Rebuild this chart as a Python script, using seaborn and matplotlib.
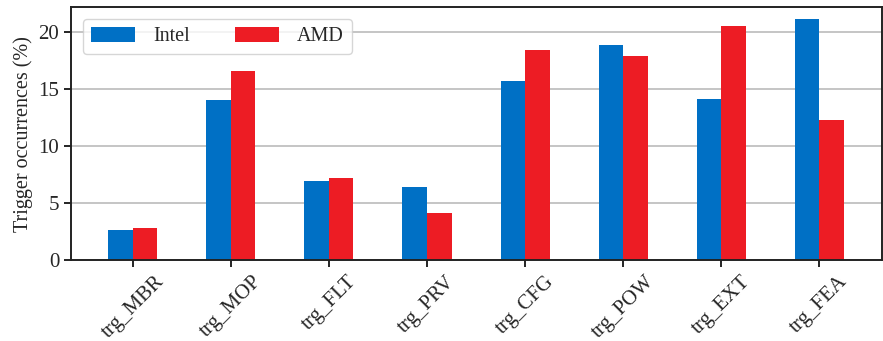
import pandas as pd
import numpy as np
import matplotlib.pyplot as plt
import seaborn as sns

# Trigger occurrences (%)
triggers = ['trg_MBR', 'trg_MOP', 'trg_FLT', 'trg_PRV',
            'trg_CFG', 'trg_POW', 'trg_EXT', 'trg_FEA']
intel = [2.66, 14.06, 6.96, 6.43, 15.73, 18.9, 14.2, 21.17]
amd = [2.83, 16.6, 7.22, 4.15, 18.5, 17.92, 20.55, 12.3]

data = pd.DataFrame({
    'Trigger': triggers * 2,
    'Value': intel + amd,
    'Vendor': ['Intel'] * len(triggers) + ['AMD'] * len(triggers),
})

sns.set_style("ticks")
plt.rcParams['font.family'] = ['Liberation Serif', 'DejaVu Serif']
plt.rcParams['font.size'] = 14

fig, ax = plt.subplots(figsize=(8.83, 3.41), dpi=100)
fig.subplots_adjust(left=0.0804, right=0.9989, top=0.980, bottom=0.2366)

ax.set_axisbelow(True)
ax.yaxis.grid(True, color='#bbbbbb', linewidth=1.2)

sns.barplot(data=data, x='Trigger', y='Value', hue='Vendor',
            palette={'Intel': '#0070C5', 'AMD': '#ED1C24'},
            width=0.5, gap=0, saturation=1, linewidth=0, ax=ax)

ax.set_xlim(-0.63, 7.64)
ax.set_ylim(0, 22.25)
ax.set_yticks([0, 5, 10, 15, 20])
ax.set_xlabel('')
ax.set_ylabel('Trigger occurrences (%)', fontsize=14.5)
ax.tick_params(axis='both', labelsize=15, color='black', width=1.2, length=5)
plt.setp(ax.get_xticklabels(), rotation=45, ha='center')

for spine in ax.spines.values():
    spine.set_visible(True)
    spine.set_color('#222222')
    spine.set_linewidth(1.4)

ax.legend(loc='upper left', ncol=2, fontsize=14.5, frameon=True,
          handlelength=2.2, handleheight=0.75, handletextpad=0.9,
          columnspacing=2.2, borderaxespad=0.6, edgecolor='#cccccc',
          fancybox=True, title=None)

plt.savefig('out.png', dpi=100)
